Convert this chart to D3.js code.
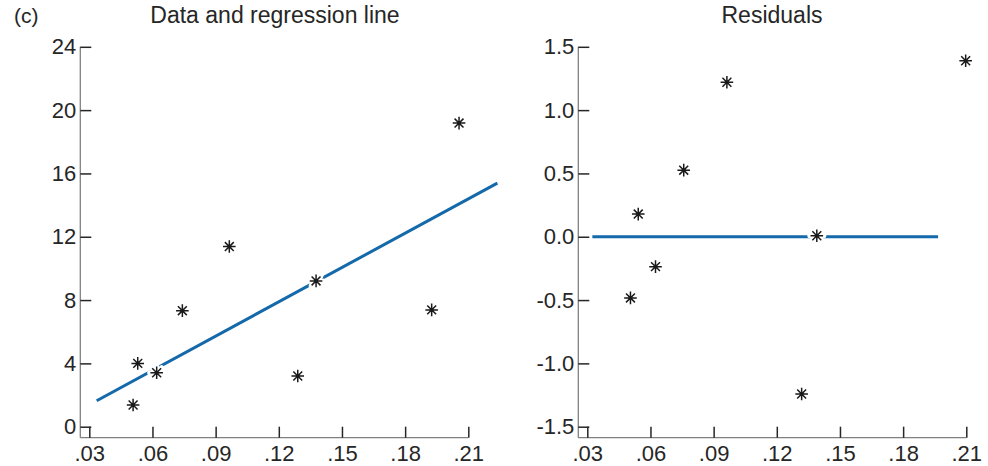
<!DOCTYPE html>
<html>
<head>
<meta charset="UTF-8">
<script src="https://cdn.jsdelivr.net/npm/d3@7"></script>
<style>
body { margin:0; background:#fff; }
text { font-family: "Liberation Sans", Arial, sans-serif; fill:#262626; }
</style>
</head>
<body>
<script>

// data panel
var dataX = [0.0508, 0.053, 0.062, 0.0742, 0.0965, 0.129, 0.1377, 0.1926, 0.2056];
var dataY = [1.37, 4.0, 3.41, 7.33, 11.38, 3.2, 9.21, 7.38, 19.18];
var fitX = [0.0335, 0.2238];
var fitY = [1.64, 15.39];

// residual panel
var resX = [0.0505, 0.0542, 0.0624, 0.0758, 0.0963, 0.1318, 0.139, 0.2097];
var resY = [-0.483, 0.179, -0.236, 0.526, 1.22, -1.242, 0.008, 1.39];
var zeroX = [0.0324, 0.1966];
var zeroY = [0, 0];

var xTicks = [0.03, 0.06, 0.09, 0.12, 0.15, 0.18, 0.21];
var yTicksData = [0, 4, 8, 12, 16, 20, 24];
var yTicksRes = [-1.5, -1.0, -0.5, 0.0, 0.5, 1.0, 1.5];

var width = 988, height = 466;
var lineColor = "#1469aa";

var svg = d3.select("body").append("svg")
    .attr("width", width)
    .attr("height", height);

svg.append("text")
    .attr("x", 14).attr("y", 23)
    .attr("font-size", 21)
    .text("(c)");

function xfmt(d) { return d3.format(".2f")(d).replace(/^0/, ""); }
function yfmt1(d) { return d3.format(".1f")(d).replace("\u2212", "-"); }

// star marker: 4 strokes through the centre
function star(r) {
    var p = d3.path();
    for (var k = 0; k < 4; k++) {
        var a = k * Math.PI / 4;
        p.moveTo(-r * Math.cos(a), -r * Math.sin(a));
        p.lineTo(r * Math.cos(a), r * Math.sin(a));
    }
    return p.toString();
}

function panel(opts) {
    var x = d3.scaleLinear().domain([0.03, 0.21]).range([opts.x0, opts.x0 + 379]);
    var y = d3.scaleLinear().domain(opts.ydom).range([426.7, 46.8]);
    var axisX = opts.x0 - 9;
    var bottom = 437.7;

    var g = svg.append("g");

    g.append("text")
        .attr("x", opts.titleX).attr("y", 23)
        .attr("text-anchor", "middle")
        .attr("font-size", 23)
        .text(opts.title);

    // axis lines
    g.append("line")
        .attr("x1", axisX).attr("x2", axisX)
        .attr("y1", y(opts.ydom[1])).attr("y2", bottom)
        .attr("stroke", "#808080").attr("stroke-width", 1.3);
    g.append("line")
        .attr("x1", axisX).attr("x2", x(0.21))
        .attr("y1", bottom).attr("y2", bottom)
        .attr("stroke", "#808080").attr("stroke-width", 1.3);

    var ya = g.append("g")
        .attr("transform", "translate(" + axisX + ",0)")
        .call(d3.axisLeft(y).tickValues(opts.yticks).tickFormat(opts.yfmt)
            .tickSizeInner(-11).tickSizeOuter(0).tickPadding(4));
    var xa = g.append("g")
        .attr("transform", "translate(0," + bottom + ")")
        .call(d3.axisBottom(x).tickValues(xTicks).tickFormat(xfmt)
            .tickSizeInner(-11).tickSizeOuter(0).tickPadding(8));

    [ya, xa].forEach(function(a) {
        a.select(".domain").remove();
        a.selectAll(".tick line").attr("stroke", "#262626").attr("stroke-width", 1.5);
        a.selectAll(".tick text").attr("font-size", 22).attr("font-family", null).attr("fill", "#262626");
    });

    var line = d3.line()
        .x(function(d) { return x(d[0]); })
        .y(function(d) { return y(d[1]); });

    g.append("path")
        .datum(d3.zip(opts.lx, opts.ly))
        .attr("d", line)
        .attr("fill", "none")
        .attr("stroke", lineColor)
        .attr("stroke-width", 3);

    var pts = d3.zip(opts.px, opts.py);
    var mk = g.selectAll(".pt").data(pts).enter().append("g")
        .attr("class", "pt")
        .attr("transform", function(d) { return "translate(" + x(d[0]) + "," + y(d[1]) + ")"; });
    mk.append("path").attr("d", star(7)).attr("stroke", "#fff").attr("stroke-width", 5).attr("stroke-linecap", "round");
    mk.append("path").attr("d", star(6.3)).attr("stroke", "#1a1a1a").attr("stroke-width", 1.5);
    mk.append("circle").attr("r", 1.8).attr("fill", "#1a1a1a");
}

panel({
    x0: 89.3, ydom: [0, 24], yticks: yTicksData, yfmt: d3.format("d"),
    title: "Data and regression line", titleX: 275,
    lx: fitX, ly: fitY, px: dataX, py: dataY
});

panel({
    x0: 587.3, ydom: [-1.5, 1.5], yticks: yTicksRes, yfmt: yfmt1,
    title: "Residuals", titleX: 772,
    lx: zeroX, ly: zeroY, px: resX, py: resY
});

</script>
</body>
</html>
